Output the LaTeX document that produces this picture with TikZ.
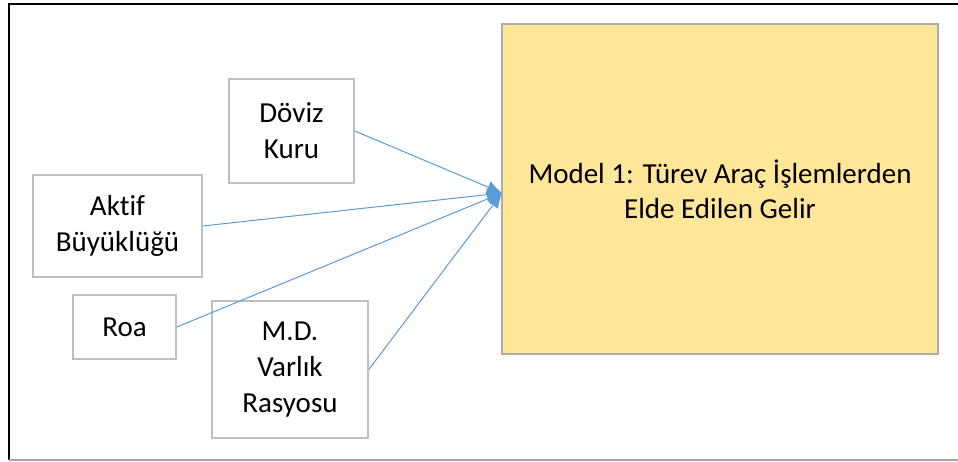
\documentclass[tikz,border=0pt]{standalone}
\usepackage{fontspec}
\setmainfont[Ligatures=NoCommon]{Carlito}
\usetikzlibrary{arrows.meta}
\definecolor{boxgray}{HTML}{BFBFBF}
\definecolor{modelfill}{HTML}{FFE699}
\definecolor{linkblue}{HTML}{5B9BD5}
\tikzset{
  varbox/.style={draw=boxgray, line width=1.6pt, fill=white, inner sep=0pt, align=center,
    font=\fontsize{29}{36}\selectfont, text=black},
  modelbox/.style={draw=boxgray!90!black, line width=1.6pt, fill=modelfill, inner sep=0pt, align=center,
    font=\fontsize{29}{35}\selectfont, text=black},
  link/.style={draw=linkblue, line width=1pt, -{Latex[length=15pt,width=13pt]}}
}
\begin{document}
\begin{tikzpicture}[x=1pt, y=-1pt]
\useasboundingbox (0,0) rectangle (958,461);
\fill[white] (0,0) rectangle (958,461);
% outer frame
\draw[black, line width=2pt] (962,3.5) -- (8.5,3.5) -- (8.5,460);
\draw[gray!70, line width=1.5pt] (8.5,460) -- (962,460);
% boxes
\node[modelbox, minimum width=436pt, minimum height=330pt] (model) at (720,189)
  {Model 1: Türev Araç İşlemlerden\\Elde Edilen Gelir};
\node[varbox, minimum width=125pt, minimum height=104pt] (doviz) at (291.5,131) {Döviz\\Kuru};
\node[varbox, minimum width=169pt, minimum height=102pt] (aktif) at (117.5,226) {Aktif\\Büyüklüğü};
\node[varbox, minimum width=103pt, minimum height=64pt] (roa) at (124.5,327) {Roa};
\node[varbox, minimum width=156pt, minimum height=137pt] (md) at (290,369.5) {M.D.\\Varlık\\Rasyosu};
\coordinate (tip) at (502,193);
% connectors
\draw[link] (doviz.east) -- (tip);
\draw[link] (aktif.east) -- (tip);
\draw[link] (roa.east) -- (tip);
\draw[link] (md.east) -- (tip);
\end{tikzpicture}
\end{document}
